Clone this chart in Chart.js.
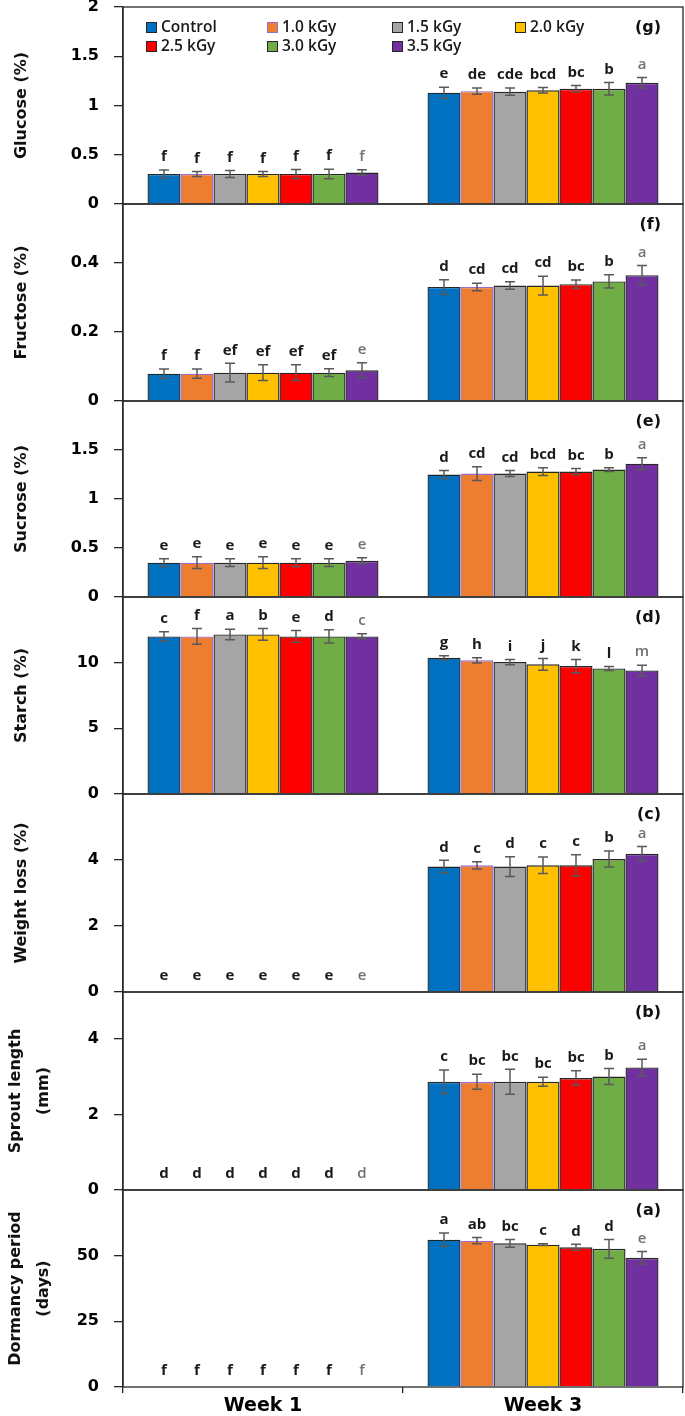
<!DOCTYPE html>
<html>
<head>
<meta charset="utf-8">
<script src="https://cdn.jsdelivr.net/npm/chart.js@4.4.1/dist/chart.umd.min.js"></script>
<style>
    html, body { margin: 0; padding: 0; background: #fff; }
    #wrap { position: relative; width: 685px; height: 1416px; overflow: hidden; }
    #wrap canvas { position: absolute; left: 0; }
</style>
</head>
<body>
<div id="wrap"></div>
<script>
// ==========================================
// DATA
// ==========================================
const categories = ['Week 1', 'Week 3'];
const seriesNames = ['Control', '1.0 kGy', '1.5 kGy', '2.0 kGy', '2.5 kGy', '3.0 kGy', '3.5 kGy'];
const seriesColors = ['#0070C0', '#ED7D31', '#A5A5A5', '#FFC000', '#FF0000', '#70AD47', '#7030A0'];
const seriesBorders = ['#262626', '#9B6BC9', '#262626', '#262626', '#262626', '#262626', '#262626'];

// (g) Glucose
const glucoseMeans = [[0.305, 0.305, 0.305, 0.305, 0.305, 0.305, 0.32], [1.13, 1.145, 1.14, 1.155, 1.17, 1.17, 1.23]];
const glucoseErrors = [[0.04, 0.026, 0.036, 0.026, 0.046, 0.048, 0.027], [0.056, 0.032, 0.037, 0.027, 0.032, 0.063, 0.053]];
const glucoseLetters = [['f', 'f', 'f', 'f', 'f', 'f', 'f'], ['e', 'de', 'cde', 'bcd', 'bc', 'b', 'a']];
const glucoseTicks = [0, 0.5, 1, 1.5, 2];

// (f) Fructose
const fructoseMeans = [[0.079, 0.079, 0.082, 0.082, 0.082, 0.082, 0.089], [0.33, 0.33, 0.334, 0.334, 0.338, 0.346, 0.364]];
const fructoseErrors = [[0.0135, 0.0135, 0.027, 0.023, 0.023, 0.011, 0.022], [0.021, 0.011, 0.011, 0.027, 0.012, 0.019, 0.028]];
const fructoseLetters = [['f', 'f', 'ef', 'ef', 'ef', 'ef', 'e'], ['d', 'cd', 'cd', 'cd', 'bc', 'b', 'a']];
const fructoseTicks = [0, 0.2, 0.4];

// (e) Sucrose
const sucroseMeans = [[0.35, 0.35, 0.35, 0.35, 0.35, 0.35, 0.37], [1.25, 1.26, 1.26, 1.28, 1.28, 1.3, 1.36]];
const sucroseErrors = [[0.04, 0.06, 0.04, 0.06, 0.04, 0.04, 0.03], [0.04, 0.07, 0.03, 0.04, 0.03, 0.02, 0.06]];
const sucroseLetters = [['e', 'e', 'e', 'e', 'e', 'e', 'e'], ['d', 'cd', 'cd', 'bcd', 'bc', 'b', 'a']];
const sucroseTicks = [0, 0.5, 1, 1.5];

// (d) Starch
const starchMeans = [[12.0, 12.0, 12.15, 12.15, 12.0, 12.0, 12.0], [10.38, 10.18, 10.05, 9.87, 9.74, 9.56, 9.41]];
const starchErrors = [[0.35, 0.6, 0.4, 0.45, 0.45, 0.5, 0.2], [0.15, 0.2, 0.2, 0.45, 0.5, 0.15, 0.4]];
const starchLetters = [['c', 'f', 'a', 'b', 'e', 'd', 'c'], ['g', 'h', 'i', 'j', 'k', 'l', 'm']];
const starchTicks = [0, 5, 10];

// (c) Weight loss
const weightMeans = [[0, 0, 0, 0, 0, 0, 0], [3.8, 3.84, 3.8, 3.84, 3.84, 4.03, 4.19]];
const weightErrors = [[0, 0, 0, 0, 0, 0, 0], [0.19, 0.11, 0.3, 0.25, 0.32, 0.24, 0.22]];
const weightLetters = [['e', 'e', 'e', 'e', 'e', 'e', 'e'], ['d', 'c', 'd', 'c', 'c', 'b', 'a']];
const weightTicks = [0, 2, 4];

// (b) Sprout length
const sproutMeans = [[0, 0, 0, 0, 0, 0, 0], [2.87, 2.87, 2.87, 2.87, 2.97, 3.01, 3.25]];
const sproutErrors = [[0, 0, 0, 0, 0, 0, 0], [0.31, 0.2, 0.33, 0.12, 0.19, 0.21, 0.22]];
const sproutLetters = [['d', 'd', 'd', 'd', 'd', 'd', 'd'], ['c', 'bc', 'bc', 'bc', 'bc', 'b', 'a']];
const sproutTicks = [0, 2, 4];

// (a) Dormancy period
const dormancyMeans = [[0, 0, 0, 0, 0, 0, 0], [56.1, 55.7, 54.7, 54.2, 53.2, 52.6, 49.2]];
const dormancyErrors = [[0, 0, 0, 0, 0, 0, 0], [2.5, 1.2, 1.5, 0.3, 1.1, 3.6, 2.4]];
const dormancyLetters = [['f', 'f', 'f', 'f', 'f', 'f', 'f'], ['a', 'ab', 'bc', 'c', 'd', 'd', 'e']];
const dormancyTicks = [0, 25, 50];

const panels = [
    { tag: '(g)', title: ['Glucose (%)'], means: glucoseMeans, errs: glucoseErrors, letters: glucoseLetters, ticks: glucoseTicks, max: 2, legend: true },
    { tag: '(f)', title: ['Fructose (%)'], means: fructoseMeans, errs: fructoseErrors, letters: fructoseLetters, ticks: fructoseTicks, max: 0.57 },
    { tag: '(e)', title: ['Sucrose (%)'], means: sucroseMeans, errs: sucroseErrors, letters: sucroseLetters, ticks: sucroseTicks, max: 2 },
    { tag: '(d)', title: ['Starch (%)'], means: starchMeans, errs: starchErrors, letters: starchLetters, ticks: starchTicks, max: 15 },
    { tag: '(c)', title: ['Weight loss (%)'], means: weightMeans, errs: weightErrors, letters: weightLetters, ticks: weightTicks, max: 6 },
    { tag: '(b)', title: ['Sprout length', '(mm)'], means: sproutMeans, errs: sproutErrors, letters: sproutLetters, ticks: sproutTicks, max: 5.25 },
    { tag: '(a)', title: ['Dormancy period', '(days)'], means: dormancyMeans, errs: dormancyErrors, letters: dormancyLetters, ticks: dormancyTicks, max: 75 }
];

// page y of each panel's top edge, last entry = bottom of last panel
const panelTops = [7, 204, 401, 597, 794, 992, 1190, 1387];

const INK = '#262626';
const tickFont = { family: 'DejaVu Sans', size: 16, weight: 'bold' };

// ==========================================
// PLUGINS
// ==========================================
const panelDecor = {
    id: 'panelDecor',
    afterDatasetsDraw(chart, args, opts) {
        const p = opts.panel;
        const { ctx, chartArea: a } = chart;
        const yScale = chart.scales.y;
        ctx.save();

        // error bars + letters
        chart.data.datasets.forEach((ds, i) => {
            const meta = chart.getDatasetMeta(i);
            meta.data.forEach((bar, j) => {
                const m = p.means[j][i], e = p.errs[j][i];
                const yHi = yScale.getPixelForValue(m + e);
                if (e > 0) {
                    const yLo = yScale.getPixelForValue(m - e);
                    ctx.strokeStyle = '#595959';
                    ctx.lineWidth = 1.5;
                    ctx.beginPath();
                    ctx.moveTo(bar.x, yHi); ctx.lineTo(bar.x, yLo);
                    ctx.moveTo(bar.x - 5, yHi); ctx.lineTo(bar.x + 5, yHi);
                    ctx.moveTo(bar.x - 5, yLo); ctx.lineTo(bar.x + 5, yLo);
                    ctx.stroke();
                }
                const lastSeries = i === chart.data.datasets.length - 1;
                ctx.fillStyle = lastSeries ? '#707070' : '#1a1a1a';
                ctx.font = (lastSeries ? '600' : 'bold') + ' 15px "Open Sans"';
                ctx.textAlign = 'center';
                ctx.textBaseline = 'middle';
                const off = e > 0 ? 13 : 16;
                ctx.fillText(p.letters[j][i], bar.x, yHi - off);
            });
        });

        // frame
        ctx.strokeStyle = INK;
        ctx.lineWidth = 1.3;
        ctx.strokeRect(a.left, a.top, a.right - a.left, a.bottom - a.top);

        // panel tag
        ctx.fillStyle = '#111';
        ctx.font = 'bold 16px "DejaVu Sans"';
        ctx.textAlign = 'right';
        ctx.textBaseline = 'middle';
        ctx.fillText(p.tag, a.right - 22, a.top + 21);

        // y title
        ctx.font = 'bold 16px "DejaVu Sans"';
        ctx.textAlign = 'center';
        const cy = (a.top + a.bottom) / 2;
        const xs = p.title.length === 1 ? [22] : [16, 44];
        p.title.forEach((line, k) => {
            ctx.save();
            ctx.translate(xs[k], cy);
            ctx.rotate(-Math.PI / 2);
            ctx.fillText(line, 0, 0);
            ctx.restore();
        });

        // legend (top panel only)
        if (p.legend) {
            const cols = [23, 144, 269, 392];
            const rows = [20.5, 39.5];
            ctx.font = '600 15.5px "Open Sans"';
            ctx.textAlign = 'left';
            seriesNames.forEach((name, i) => {
                const x = a.left + cols[i % 4];
                const y = a.top + rows[Math.floor(i / 4)];
                ctx.fillStyle = seriesColors[i];
                ctx.fillRect(x, y - 5.5, 11, 11);
                ctx.strokeStyle = seriesBorders[i];
                ctx.lineWidth = 1;
                ctx.strokeRect(x + 0.5, y - 5, 10, 10);
                ctx.fillStyle = '#1a1a1a';
                ctx.fillText(name, x + 15, y + 0.5);
            });
        }
        ctx.restore();
    }
};

// ==========================================
// BUILD PANELS
// ==========================================
const wrap = document.getElementById('wrap');

panels.forEach((p, k) => {
    const top = panelTops[k], bottom = panelTops[k + 1];
    const isLast = k === panels.length - 1;
    const cTop = Math.max(0, top - 10);
    const padTop = top - cTop;
    const xH = isLast ? 29 : 0;
    const padBottom = isLast ? 0 : 10;
    const h = padTop + (bottom - top) + xH + padBottom;

    const canvas = document.createElement('canvas');
    canvas.width = 685;
    canvas.height = h;
    canvas.style.top = cTop + 'px';
    canvas.style.width = '685px';
    canvas.style.height = h + 'px';
    wrap.appendChild(canvas);

    const datasets = seriesNames.map((name, i) => ({
        label: name,
        data: [p.means[0][i], p.means[1][i]],
        backgroundColor: seriesColors[i],
        borderColor: seriesBorders[i],
        borderWidth: 1.4
    }));

    new Chart(canvas, {
        type: 'bar',
        data: { labels: categories, datasets: datasets },
        options: {
            responsive: false,
            animation: false,
            devicePixelRatio: 1,
            layout: { padding: { top: padTop, bottom: padBottom, left: 0, right: 2 } },
            datasets: { bar: { categoryPercentage: 0.825, barPercentage: 1 } },
            scales: {
                x: {
                    display: isLast,
                    grid: { offset: true, drawOnChartArea: false, tickLength: 6, color: INK, lineWidth: 1.3 },
                    border: { display: false },
                    ticks: { font: { family: 'DejaVu Sans', size: 19, weight: 'bold' }, color: '#000', padding: 2 },
                    afterFit: s => { s.height = xH; s.paddingLeft = 0; s.paddingRight = 0; }
                },
                y: {
                    min: 0,
                    max: p.max,
                    afterBuildTicks: s => { s.ticks = p.ticks.map(v => ({ value: v })); },
                    afterFit: s => { s.width = 123; s.paddingTop = 0; s.paddingBottom = 0; },
                    grid: { drawOnChartArea: false, tickLength: 9, color: INK, lineWidth: 1.3 },
                    border: { display: true, color: INK, width: 1.3 },
                    ticks: { font: tickFont, color: '#000', padding: 15, callback: v => String(v) }
                }
            },
            plugins: {
                legend: { display: false },
                tooltip: { enabled: false },
                panelDecor: { panel: p }
            }
        },
        plugins: [panelDecor]
    });
});
</script>
</body>
</html>
